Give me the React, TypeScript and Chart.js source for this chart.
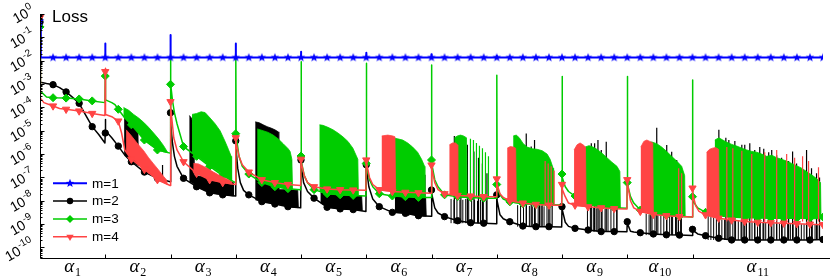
import React, { useEffect, useRef } from 'react';
import { Chart, registerables } from 'chart.js';

Chart.register(...registerables);

// ===================== values =====================
const SECTION_EDGES = [0, 1000, 2000, 3000, 4000, 5000, 6000, 7000, 8000, 9000, 10000, 12000];
const SECTION_SUBSCRIPTS = ['1', '2', '3', '4', '5', '6', '7', '8', '9', '10', '11'];
const Y_EXPONENTS = [0, -1, -2, -3, -4, -5, -6, -7, -8, -9, -10];
const Y_MIN_EXP = -10.45;
const SERIES_NAMES = ['m=1', 'm=2', 'm=3', 'm=4'];
const TITLE = 'Loss';
const MARKER_STEP = 200;

type Knot = [number, number];
type BandRow = [number, number, number]; // x, top, bottom
type SpikeGroup = { floor: number; pts: Knot[] };
type Comb = { x0: number; dx: number; floor: number; tops: number[] };

// m = 1 (flat)
const m1Start = 0.5;
const m1Level = 1.37e-2;
const m1SpikeX = [1001, 2001, 3001, 4001, 5001, 6001, 7001];
const m1SpikeTop = [5.5e-2, 1.26e-1, 5.5e-2, 2.4e-2, 2.2e-2, 1.9e-2, 1.6e-2];

// m = 2 base line
const m2Line: Knot[] = [
  [0, 0.45], [6, 1.2e-3], [100, 1.05e-3], [200, 9.4e-4], [300, 7e-4], [400, 4.6e-4], [500, 2.7e-4], [600, 1.5e-4], [700, 4.7e-5], [800, 1.5e-5], [900, 6.9e-6], [995, 3e-6],
  [1000, 8e-6], [1002, 3e-5], [1006, 1e-5], [1100, 5e-6], [1200, 2.2e-6], [1300, 9e-7], [1400, 4.7e-7], [1600, 1.7e-7], [1800, 9.2e-8], [1995, 6.6e-8],
  [2000, 5.9e-5], [2006, 2e-5], [2030, 3e-6], [2060, 8e-7], [2100, 3e-7], [2200, 9.2e-8], [2400, 4e-8], [2600, 2.2e-8], [2800, 1.8e-8], [2995, 1.6e-8],
  [3000, 3.7e-6], [3006, 1.5e-6], [3030, 2.5e-7], [3070, 6e-8], [3120, 2.8e-8], [3200, 1.8e-8], [3400, 9.2e-9], [3600, 7.3e-9], [3800, 5.6e-9], [3995, 5e-9],
  [4000, 5.6e-7], [4006, 3e-7], [4040, 6e-8], [4100, 2.5e-8], [4200, 1.3e-8], [4400, 5.3e-9], [4600, 4.5e-9], [4800, 4.2e-9], [4995, 3.5e-9],
  [5000, 3.5e-7], [5006, 2e-7], [5040, 4e-8], [5100, 1.2e-8], [5200, 5.6e-9], [5400, 3.2e-9], [5600, 2.9e-9], [5800, 2.3e-9], [5995, 2.2e-9],
  [6000, 2.9e-8], [6006, 2e-8], [6050, 5e-9], [6100, 3e-9], [6200, 2.1e-9], [6400, 1.4e-9], [6600, 1.15e-9], [6800, 1.1e-9], [6995, 1.05e-9],
  [7000, 1.8e-8], [7006, 1e-8], [7050, 2.5e-9], [7100, 1.7e-9], [7200, 1.27e-9], [7400, 8.3e-10], [7600, 7.8e-10], [7800, 7.8e-10], [7995, 7.6e-10],
  [8000, 5.6e-9], [8006, 4e-9], [8050, 1.2e-9], [8100, 8e-10], [8200, 6.6e-10], [8400, 5.6e-10], [8600, 4.8e-10], [8800, 4.8e-10], [8995, 4.7e-10],
  [9000, 1.27e-9], [9006, 1e-9], [9050, 5e-10], [9100, 4.6e-10], [9200, 4.3e-10], [9400, 3.8e-10], [9600, 3.5e-10], [9800, 3.4e-10], [9995, 3.3e-10],
  [10000, 6e-10], [10006, 5.5e-10], [10080, 3.8e-10], [10200, 3.2e-10], [10400, 2.5e-10], [10600, 2.1e-10], [10800, 2.1e-10], [11000, 2.1e-10], [11200, 2.1e-10], [11400, 2.1e-10], [11600, 2.1e-10], [11800, 2.1e-10], [12000, 2.2e-10],
];

// m = 3 base line
const m3Line: Knot[] = [
  [0, 0.28], [6, 5e-4], [100, 2.8e-4], [200, 2.6e-4], [400, 2.5e-4], [600, 2.3e-4], [800, 1.9e-4], [995, 1.6e-4],
  [1000, 2.2e-3], [1002, 4e-3], [1006, 2.1e-4], [1100, 1.6e-4], [1150, 1.3e-4], [1200, 8.3e-5], [1300, 3.5e-5], [1400, 1.8e-5], [1600, 4e-6], [1800, 1.5e-6], [1995, 1.1e-6],
  [2000, 9.7e-4], [2002, 1.3e-2], [2006, 1e-3], [2030, 2e-4], [2060, 6e-5], [2100, 2e-5], [2200, 2.1e-6], [2400, 8e-7], [2600, 3e-7], [2800, 1.2e-7], [2995, 6e-8],
  [3000, 7.5e-6], [3002, 1.2e-2], [3006, 6e-6], [3050, 8e-7], [3100, 3e-7], [3200, 1.4e-7], [3400, 6e-8], [3600, 4e-8], [3800, 3.3e-8], [3995, 3e-8],
  [4000, 8.3e-7], [4002, 9e-3], [4006, 5e-7], [4050, 1.2e-7], [4100, 6e-8], [4200, 3e-8], [4400, 2e-8], [4600, 1.8e-8], [4800, 1.7e-8], [4995, 1.6e-8],
  [5000, 4e-7], [5002, 7.7e-3], [5006, 3e-7], [5050, 8e-8], [5100, 4e-8], [5200, 2e-8], [5400, 1.6e-8], [5600, 1.5e-8], [5800, 1.4e-8], [5995, 1.4e-8],
  [6000, 5.6e-7], [6002, 6.6e-3], [6006, 4e-7], [6050, 8e-8], [6100, 4e-8], [6200, 1.8e-8], [6400, 1.5e-8], [6600, 1.4e-8], [6800, 1.3e-8], [6995, 1.3e-8],
  [7000, 5e-8], [7002, 2.4e-3], [7006, 4e-8], [7050, 1.8e-8], [7100, 1.2e-8], [7200, 9e-9], [7400, 7.5e-9], [7600, 7e-9], [7800, 6.8e-9], [7995, 6.6e-9],
  [8000, 1.4e-7], [8002, 2.1e-3], [8006, 1e-7], [8050, 4e-8], [8100, 2.5e-8], [8200, 1.6e-8], [8400, 7e-9], [8600, 5.6e-9], [8800, 5e-9], [8995, 4.8e-9],
  [9000, 6e-8], [9002, 2.1e-3], [9006, 5e-8], [9050, 1.5e-8], [9100, 8e-9], [9200, 4e-9], [9400, 2.8e-9], [9600, 2.4e-9], [9800, 2.2e-9], [9995, 2e-9],
  [10000, 1.5e-8], [10002, 1.5e-3], [10006, 1e-8], [10080, 5e-9], [10200, 3.2e-9], [10400, 2.3e-9], [10600, 2e-9], [10800, 1.9e-9], [11000, 1.9e-9], [11200, 1.8e-9], [11400, 1.8e-9], [11600, 1.8e-9], [11800, 1.8e-9], [12000, 2e-9],
];

// m = 4 base line
const m4Line: Knot[] = [
  [0, 0.7], [6, 2.5e-4], [60, 1.6e-4], [200, 1.15e-4], [300, 9e-5], [400, 8.3e-5], [600, 7e-5], [800, 5.5e-5], [995, 4.5e-5],
  [1000, 3.4e-3], [1002, 4.8e-3], [1006, 5e-5], [1100, 4e-5], [1200, 2.6e-5], [1250, 8e-6], [1300, 1.5e-6], [1400, 6e-7], [1600, 2.2e-7], [1800, 8e-8], [1995, 4.5e-8],
  [2000, 1.75e-4], [2006, 1e-4], [2050, 5e-6], [2100, 1.5e-6], [2200, 4.7e-7], [2400, 1.5e-7], [2600, 8e-8], [2800, 6e-8], [2995, 5e-8],
  [3000, 5e-6], [3006, 3e-6], [3050, 8e-7], [3100, 3.5e-7], [3200, 1.7e-7], [3400, 8e-8], [3600, 6e-8], [3800, 5e-8], [3995, 4.5e-8],
  [4000, 6e-7], [4006, 4e-7], [4050, 1.2e-7], [4100, 6e-8], [4200, 4e-8], [4400, 3.2e-8], [4600, 3e-8], [4800, 2.9e-8], [4995, 2.8e-8],
  [5000, 5.6e-7], [5006, 4e-7], [5050, 1e-7], [5100, 5e-8], [5200, 3e-8], [5400, 2.5e-8], [5600, 2.3e-8], [5800, 2.2e-8], [5995, 2.1e-8],
  [6000, 3.4e-7], [6006, 2.5e-7], [6050, 6e-8], [6100, 3e-8], [6200, 2e-8], [6400, 1.7e-8], [6600, 1.6e-8], [6800, 1.5e-8], [6995, 1.5e-8],
  [7000, 8.6e-8], [7006, 5e-8], [7050, 2e-8], [7100, 1.4e-8], [7200, 1e-8], [7400, 8e-9], [7600, 7e-9], [7800, 6.5e-9], [7995, 6.5e-9],
  [8000, 5e-8], [8006, 3e-8], [8050, 1.5e-8], [8100, 8e-9], [8200, 6.5e-9], [8400, 5.5e-9], [8600, 5e-9], [8800, 4.6e-9], [8995, 4.4e-9],
  [9000, 8e-8], [9006, 5e-8], [9050, 1e-8], [9100, 5e-9], [9200, 3.5e-9], [9400, 2.6e-9], [9600, 2.3e-9], [9800, 2.1e-9], [9995, 2e-9],
  [10000, 3.5e-8], [10006, 2e-8], [10050, 6e-9], [10100, 3.5e-9], [10200, 2.5e-9], [10400, 1.8e-9], [10600, 1.5e-9], [10800, 1.3e-9], [11000, 1.2e-9], [11200, 1.15e-9], [11400, 1.1e-9], [11600, 1.05e-9], [11800, 1e-9], [12000, 9.5e-10],
];

// dense oscillation envelopes: [x, top, bottom]
const m2Bands: BandRow[][] = [
  [[1290, 4e-5, 9.5e-7], [1320, 3.5e-5, 8e-7], [1360, 3e-5, 6.5e-7], [1400, 2.5e-5, 4.7e-7], [1450, 2e-5, 4e-7], [1500, 1.5e-5, 3.3e-7], [1510, 3.2e-7, 3.2e-7]],
  [[2290, 4.5e-5, 6.5e-8], [2320, 3.5e-5, 6e-8], [2350, 2e-5, 5.5e-8], [2360, 1.2e-7, 5.2e-8], [2500, 1.1e-7, 3e-8], [2700, 9e-8, 2e-8], [2900, 7e-8, 1.7e-8], [2960, 6e-8, 1.6e-8], [2970, 1.6e-8, 1.6e-8]],
  [[3300, 2.4e-5, 1.1e-8], [3360, 2.2e-5, 9.8e-9], [3420, 1.8e-5, 9e-9], [3480, 1.5e-5, 8.5e-9], [3540, 1.3e-5, 8e-9], [3600, 1.1e-5, 7.3e-9], [3650, 9e-6, 7e-9], [3660, 3e-8, 6.9e-9], [3800, 3e-8, 5.6e-9], [3950, 2.8e-8, 5.1e-9], [3960, 5.1e-9, 5.1e-9]],
  [[4300, 2.2e-8, 8e-9], [4420, 2e-8, 5.2e-9], [4600, 1.8e-8, 4.5e-9], [4800, 1.7e-8, 4.2e-9], [4930, 1.6e-8, 3.8e-9], [4940, 3.8e-9, 3.8e-9]],
  [[5440, 1.6e-8, 3.2e-9], [5600, 1.5e-8, 2.9e-9], [5800, 1.4e-8, 2.3e-9], [5910, 1.4e-8, 2.2e-9], [5920, 2.2e-9, 2.2e-9]],
];

const m3Bands: BandRow[][] = [
  [[1280, 1e-4, 4e-5], [1360, 7.5e-5, 2.5e-5], [1435, 5e-5, 1.5e-5], [1512, 3.5e-5, 8e-6], [1588, 2.3e-5, 4.3e-6], [1664, 1.4e-5, 2.8e-6], [1741, 8e-6, 2e-6], [1817, 4.5e-6, 1.45e-6], [1894, 2.3e-6, 1.25e-6], [1955, 1.2e-6, 1.15e-6]],
  [[2330, 5e-5, 1.1e-6], [2400, 5.5e-5, 8e-7], [2470, 6.5e-5, 6e-7], [2530, 6e-5, 4.5e-7], [2607, 3.5e-5, 3e-7], [2683, 2e-5, 2.2e-7], [2760, 1e-5, 1.6e-7], [2836, 3.5e-6, 1.1e-7], [2887, 1.6e-6, 8.5e-8], [2930, 8e-7, 7e-8], [2940, 7e-8, 7e-8]],
  [[3330, 1.2e-5, 8e-8], [3420, 1e-5, 6e-8], [3497, 8.5e-6, 5e-8], [3573, 6.5e-6, 4.4e-8], [3650, 4.5e-6, 3.9e-8], [3726, 2.8e-6, 3.5e-8], [3803, 1.7e-6, 3.3e-8], [3833, 1.3e-6, 3.2e-8], [3860, 6e-7, 3.2e-8], [3870, 3.2e-8, 3.2e-8]],
  [[4284, 1.8e-5, 2.5e-8], [4337, 1.7e-5, 2.2e-8], [4413, 1.4e-5, 2e-8], [4490, 1.1e-5, 1.9e-8], [4566, 8e-6, 1.8e-8], [4642, 5.5e-6, 1.75e-8], [4719, 3.5e-6, 1.7e-8], [4795, 1.8e-6, 1.7e-8], [4871, 6e-7, 1.65e-8], [4880, 1.65e-8, 1.65e-8]],
  [[5405, 5e-6, 1.6e-8], [5482, 4.5e-6, 1.55e-8], [5558, 4e-6, 1.5e-8], [5635, 3e-6, 1.5e-8], [5711, 2e-6, 1.45e-8], [5787, 1.2e-6, 1.4e-8], [5848, 6e-7, 1.4e-8], [5894, 3e-7, 1.4e-8], [5900, 1.4e-8, 1.4e-8]],
  [[6352, 5e-6, 1.5e-8], [6398, 6e-6, 1.5e-8], [6444, 6.5e-6, 1.45e-8], [6490, 6e-6, 1.4e-8], [6536, 5e-6, 1.4e-8], [6545, 1.4e-8, 1.4e-8]],
  [[7253, 6e-6, 8.5e-9], [7299, 6.5e-6, 8e-9], [7345, 5e-6, 7.8e-9], [7406, 2.8e-6, 7.5e-9], [7467, 2e-6, 7.3e-9], [7543, 1.7e-6, 7.1e-9], [7620, 1.6e-6, 7e-9], [7696, 1.4e-6, 6.9e-9], [7772, 1e-6, 6.8e-9], [7818, 6e-7, 6.7e-9], [7864, 2.5e-7, 6.7e-9], [7875, 6.7e-9, 6.7e-9]],
  [[8353, 2e-6, 8e-9], [8414, 2.3e-6, 6.8e-9], [8475, 2e-6, 6.2e-9], [8536, 1.6e-6, 5.8e-9], [8612, 1.1e-6, 5.5e-9], [8689, 7e-7, 5.3e-9], [8765, 4.5e-7, 5.1e-9], [8842, 3e-7, 4.9e-9], [8887, 1.8e-7, 4.9e-9], [8895, 4.9e-9, 4.9e-9]],
  [[9300, 3e-6, 3.4e-9], [9376, 3.3e-6, 2.9e-9], [9452, 2.8e-6, 2.6e-9], [9528, 2e-6, 2.5e-9], [9605, 1.3e-6, 2.4e-9], [9681, 8e-7, 2.3e-9], [9758, 5e-7, 2.2e-9], [9834, 3e-7, 2.1e-9], [9880, 1.2e-7, 2.1e-9], [9888, 2.1e-9, 2.1e-9]],
  [[10343, 4e-6, 2.7e-9], [10404, 5e-6, 2.4e-9], [10465, 4e-6, 2.25e-9], [10526, 3.2e-6, 2.15e-9], [10603, 2.6e-6, 2e-9], [10679, 2.2e-6, 1.95e-9], [10756, 1.8e-6, 1.9e-9], [10832, 1.5e-6, 1.9e-9], [10908, 1.3e-6, 1.9e-9], [10985, 1.2e-6, 1.9e-9], [11061, 1e-6, 1.85e-9], [11137, 8e-7, 1.8e-9], [11214, 9e-7, 1.8e-9], [11290, 7e-7, 1.8e-9], [11366, 6e-7, 1.8e-9], [11443, 5e-7, 1.8e-9], [11519, 4e-7, 1.8e-9], [11595, 3.2e-7, 1.8e-9], [11672, 2.5e-7, 1.75e-9], [11748, 1.8e-7, 1.7e-9], [11824, 1.3e-7, 1.7e-9], [11901, 9e-8, 1.7e-9], [11962, 6e-8, 1.7e-9], [11970, 1.7e-9, 1.7e-9]],
];

const m4Bands: BandRow[][] = [
  [[1320, 1.1e-5, 1.3e-6], [1390, 6.6e-6, 7e-7], [1451, 4e-6, 5e-7], [1512, 2.45e-6, 3.6e-7], [1588, 1.4e-6, 2.4e-7], [1664, 7e-7, 1.6e-7], [1741, 3.8e-7, 1.1e-7], [1817, 2.1e-7, 7.6e-8], [1894, 1.1e-7, 6e-8], [1940, 7.8e-8, 5.2e-8], [1950, 5e-8, 5e-8]],
  [[2352, 4e-7, 2e-7], [2428, 3.8e-7, 1.4e-7], [2504, 3e-7, 1.1e-7], [2581, 2.3e-7, 8.5e-8], [2657, 1.7e-7, 7.5e-8], [2733, 1.3e-7, 6.6e-8], [2810, 1e-7, 6e-8], [2886, 8e-8, 5.5e-8], [2932, 6.5e-8, 5.2e-8], [2940, 5.2e-8, 5.2e-8]],
  [[5238, 6e-6, 2.8e-8], [5330, 6.5e-6, 2.6e-8], [5405, 6e-6, 2.5e-8], [5440, 5.5e-6, 2.45e-8], [5450, 2.45e-8, 2.45e-8]],
  [[6275, 2.5e-6, 1.9e-8], [6322, 3e-6, 1.8e-8], [6368, 3e-6, 1.75e-8], [6398, 2.5e-6, 1.7e-8], [6405, 1.7e-8, 1.7e-8]],
  [[7161, 1.8e-6, 1e-8], [7207, 2.1e-6, 1e-8], [7253, 2e-6, 9.5e-9], [7290, 1.8e-6, 9e-9], [7300, 9e-9, 9e-9]],
  [[8185, 1.5e-6, 6.5e-9], [8231, 2.5e-6, 6.2e-9], [8277, 3e-6, 6e-9], [8323, 2.5e-6, 5.8e-9], [8360, 2e-6, 5.7e-9], [8370, 5.7e-9, 5.7e-9]],
  [[9208, 2e-6, 3.5e-9], [9254, 3.5e-6, 3.2e-9], [9300, 4e-6, 3e-9], [9346, 3.5e-6, 2.9e-9], [9391, 3e-6, 2.8e-9], [9400, 2.8e-9, 2.6e-9]],
  [[10216, 1.2e-6, 2.5e-9], [10262, 1.6e-6, 2.2e-9], [10308, 1.8e-6, 2e-9], [10354, 1.9e-6, 1.9e-9], [10400, 1.6e-6, 1.8e-9], [10410, 1.8e-9, 1.8e-9]],
];

// individual tall spikes
const m2Spikes: SpikeGroup[] = [
  { floor: 7e-8, pts: [[1878, 3.4e-7]] },
  { floor: 5.5e-9, pts: [[3853, 5.6e-7]] },
  { floor: 2.3e-9, pts: [[5650, 1.5e-6], [5750, 7.5e-7], [5850, 3.4e-7], [5900, 1.3e-7]] },
  { floor: 1.1e-9, pts: [[6350, 6e-6], [6450, 4e-6], [6550, 2.5e-6], [6650, 1.3e-6], [6720, 7e-7], [6780, 4e-7], [6850, 1.5e-7]] },
  { floor: 7.8e-10, pts: [[7452, 7.7e-6], [7528, 2.1e-6], [7579, 4e-6], [7656, 1.5e-6], [7696, 1.25e-6], [7798, 2.9e-7], [7849, 9.2e-8]] },
  { floor: 4.8e-10, pts: [[8449, 2.9e-6], [8500, 2.9e-6], [8551, 4e-6], [8602, 1.5e-6], [8678, 3.4e-6], [8841, 1.27e-7]] },
  { floor: 3.4e-10, pts: [[9360, 2.9e-6], [9452, 1.35e-5], [9605, 2.45e-6], [9681, 1.25e-6], [9758, 5.6e-7], [9819, 4e-8]] },
  { floor: 2.1e-10, pts: [[10404, 1.1e-5], [10511, 5e-6], [10557, 4e-6], [10649, 3.6e-6], [10756, 2.5e-6], [10801, 2.5e-6], [10878, 2.9e-6], [10954, 1.5e-6], [11031, 2e-6], [11092, 1.7e-6], [11168, 1.2e-6], [11214, 1.5e-6], [11290, 9e-7], [11366, 7e-7], [11473, 5e-7], [11534, 1.3e-6], [11595, 4e-7], [11748, 1.5e-6], [11824, 2.5e-7], [11901, 1.5e-7], [11947, 1e-7]] },
];
const m3Spikes: SpikeGroup[] = [
  { floor: 1.35e-8, pts: [[6597, 4.5e-6], [6643, 4e-6], [6689, 3e-6], [6735, 2.3e-6], [6781, 1.8e-6], [6827, 1.2e-6], [6873, 8e-7]] },
];
const m4Spikes: SpikeGroup[] = [
  { floor: 7e-9, pts: [[7742, 5e-7], [7788, 4e-7], [7834, 3e-7], [7880, 2e-7]] },
  { floor: 2.2e-9, pts: [[9788, 2.5e-7], [9834, 1.5e-7]] },
  { floor: 1.3e-9, pts: [[10526, 2e-6], [10618, 1.8e-6], [10756, 1.4e-6], [10908, 1e-6], [11107, 1.2e-6], [11290, 1.5e-6], [11443, 1e-6], [11565, 7e-7], [11687, 8e-7], [11779, 5e-7], [11931, 2.7e-7]] },
];

// low dense black combs (iteration grid x0 + i*dx)
const m2Combs: Comb[] = [
  { x0: 6300, dx: 45, floor: 1.1e-9, tops: [1.2e-8, 1.1e-8, 1.2e-8, 1.1e-8, 1.1e-8, 1.2e-8, 1.1e-8, 1.1e-8, 1.1e-8, 1e-8, 1.1e-8, 1e-8, 1e-8] },
  { x0: 7320, dx: 45, floor: 7.8e-10, tops: [6.5e-9, 6e-9, 6.2e-9, 6e-9, 6e-9, 5.8e-9, 6e-9, 5.8e-9, 6e-9, 5.8e-9, 5.6e-9, 5.6e-9] },
  { x0: 8390, dx: 45, floor: 4.8e-10, tops: [5.2e-9, 5e-9, 5e-9, 4.8e-9, 4.8e-9, 4.7e-9, 4.6e-9, 4.6e-9, 4.5e-9, 4.5e-9, 4.4e-9] },
  { x0: 9290, dx: 45, floor: 3.4e-10, tops: [2.8e-9, 2.6e-9, 2.5e-9, 2.5e-9, 2.4e-9, 2.3e-9, 2.3e-9, 2.2e-9, 2.2e-9, 2.1e-9, 2.1e-9, 2e-9, 2e-9] },
  { x0: 10240, dx: 42, floor: 2.1e-10, tops: [2.2e-9, 2e-9, 1.9e-9, 1.8e-9, 1.7e-9, 1.6e-9, 1.6e-9, 1.5e-9, 1.5e-9, 1.4e-9, 1.4e-9, 1.35e-9, 1.3e-9, 1.3e-9, 1.25e-9, 1.25e-9, 1.2e-9, 1.2e-9, 1.2e-9, 1.15e-9, 1.15e-9, 1.15e-9, 1.1e-9, 1.1e-9, 1.1e-9, 1.1e-9, 1.05e-9, 1.05e-9, 1.05e-9, 1.05e-9, 1e-9, 1e-9, 1e-9, 1e-9, 1e-9, 1e-9, 9.8e-10, 9.8e-10, 9.6e-10, 9.6e-10, 9.5e-10] },
];

// ===================== styling =====================
const BLUE = '#0000ff';
const BLACK = '#000000';
const GREEN = '#00cc00';
const RED = '#ff4444';
const SANS = '"Liberation Sans", Arial, sans-serif';
const SERIF = '"Liberation Serif", "Times New Roman", serif';

function starPath(g: CanvasRenderingContext2D, cx: number, cy: number, r: number) {
  g.beginPath();
  for (let i = 0; i < 10; i++) {
    const a = -Math.PI / 2 + (i * Math.PI) / 5;
    const rr = i % 2 === 0 ? r : r * 0.42;
    g.lineTo(cx + rr * Math.cos(a), cy + rr * Math.sin(a));
  }
  g.closePath();
}
function makeStar(color: string, r: number) {
  const c = document.createElement('canvas');
  const s = Math.ceil(r * 2 + 2);
  c.width = s; c.height = s;
  const g = c.getContext('2d')!;
  starPath(g, s / 2, s / 2, r);
  g.fillStyle = color;
  g.fill();
  return c;
}

function lineData(knots: Knot[]) {
  return knots.map(([x, y]) => ({ x, y, mk: x % MARKER_STEP === 0 }));
}
function bandData(band: BandRow[]) {
  const fwd = band.map(([x, t]) => ({ x, y: t }));
  const back = band.slice().reverse().map(([x, , b]) => ({ x, y: b }));
  return fwd.concat(back);
}
function spikeData(groups: SpikeGroup[]) {
  const pts: any[] = [];
  groups.forEach((g) => g.pts.forEach(([x, t]) => pts.push({ x, y: g.floor }, { x, y: t }, { x, y: null })));
  return pts;
}
function combData(combs: Comb[]) {
  const pts: any[] = [];
  combs.forEach((c) => c.tops.forEach((t, i) => {
    const x = c.x0 + i * c.dx;
    pts.push({ x, y: c.floor }, { x, y: t }, { x, y: null });
  }));
  return pts;
}
function m1Data() {
  const pts: any[] = [{ x: 0, y: m1Start, mk: true }, { x: 12, y: m1Level }];
  for (let x = MARKER_STEP; x <= 12000; x += MARKER_STEP) {
    pts.push({ x, y: m1Level, mk: true });
    const i = m1SpikeX.indexOf(x + 1);
    if (i >= 0) pts.push({ x: x + 1, y: m1SpikeTop[i] }, { x: x + 2, y: m1Level });
  }
  return pts;
}

function seriesDatasets(color: string, knots: Knot[], bands: BandRow[][], spikes: SpikeGroup[], combs: Comb[], pointStyle: any, radius: number, rotation: number, orderBase: number) {
  const ds: any[] = [];
  if (spikes.length) ds.push({ data: spikeData(spikes), borderColor: color, borderWidth: 1.2, pointRadius: 0, spanGaps: false, fill: false, order: orderBase });
  if (combs.length) ds.push({ data: combData(combs), borderColor: color, borderWidth: 1, pointRadius: 0, spanGaps: false, fill: false, order: orderBase });
  ds.push({
    data: lineData(knots), borderColor: color, borderWidth: 1.5, borderJoinStyle: 'round', fill: false,
    pointStyle, rotation, pointBackgroundColor: color, pointBorderColor: color, pointBorderWidth: 1,
    pointRadius: (c: any) => (c.raw && c.raw.mk ? radius : 0), order: orderBase + 1,
  });
  bands.forEach((b) => ds.push({ data: bandData(b), borderColor: color, backgroundColor: color, borderWidth: 0.8, pointRadius: 0, fill: 'shape', order: orderBase + 2 }));
  return ds;
}

function drawLegendMarker(ctx: CanvasRenderingContext2D, kind: string, x: number, y: number, color: string) {
  ctx.fillStyle = color;
  if (kind === 'star') { starPath(ctx, x, y, 4.6); ctx.fill(); return; }
  ctx.beginPath();
  if (kind === 'circle') ctx.arc(x, y, 3.2, 0, Math.PI * 2);
  else if (kind === 'diamond') { ctx.moveTo(x, y - 4); ctx.lineTo(x + 4, y); ctx.lineTo(x, y + 4); ctx.lineTo(x - 4, y); }
  else { ctx.moveTo(x - 3.7, y - 2); ctx.lineTo(x + 3.7, y - 2); ctx.lineTo(x, y + 4.2); }
  ctx.closePath();
  ctx.fill();
}

const decorPlugin = {
  id: 'decor',
  afterDatasetsDraw(chart: any) {
    const { ctx, chartArea: a } = chart;
    const xs = chart.scales.x;
    const ys = chart.scales.y;
    ctx.save();
    ctx.strokeStyle = '#000';
    ctx.lineWidth = 1;
    const x0 = Math.round(a.left) + 0.5;
    const yb = Math.round(a.bottom) + 0.5;
    ctx.beginPath();
    ctx.moveTo(x0, a.top);
    ctx.lineTo(x0, yb);
    ctx.lineTo(chart.width, yb);
    SECTION_EDGES.slice(1, -1).forEach((v) => {
      const px = Math.round(xs.getPixelForValue(v)) + 0.5;
      ctx.moveTo(px, yb);
      ctx.lineTo(px, yb - 4);
    });
    Y_EXPONENTS.forEach((e) => {
      const py = Math.round(ys.getPixelForValue(Math.pow(10, e))) + 0.5;
      ctx.moveTo(x0, py);
      ctx.lineTo(x0 + 4, py);
    });
    for (let e = -11; e < 0; e++) {
      for (let m = 2; m <= 9; m++) {
        const v = m * Math.pow(10, e);
        if (v < ys.min || v > ys.max) continue;
        const py = Math.round(ys.getPixelForValue(v)) + 0.5;
        ctx.moveTo(x0, py);
        ctx.lineTo(x0 + 2, py);
      }
    }
    ctx.stroke();

    // y labels (rotated 10^e)
    ctx.fillStyle = '#000';
    Y_EXPONENTS.forEach((e) => {
      const py = ys.getPixelForValue(Math.pow(10, e));
      const exp = String(e);
      ctx.save();
      ctx.translate(35, py - 1);
      ctx.rotate(-Math.PI / 6);
      ctx.textBaseline = 'alphabetic';
      ctx.textAlign = 'left';
      ctx.font = '10px ' + SANS;
      const we = ctx.measureText(exp).width;
      ctx.fillText(exp, -we, -6);
      ctx.font = '14px ' + SANS;
      const w10 = ctx.measureText('10').width;
      ctx.fillText('10', -we - w10 - 0.5, 0);
      ctx.restore();
    });

    // x labels alpha_i
    for (let i = 0; i < SECTION_SUBSCRIPTS.length; i++) {
      const cx = xs.getPixelForValue((SECTION_EDGES[i] + SECTION_EDGES[i + 1]) / 2);
      ctx.font = 'italic 19px ' + SERIF;
      const wa = ctx.measureText('α').width;
      ctx.font = '12px ' + SERIF;
      const ws = ctx.measureText(SECTION_SUBSCRIPTS[i]).width;
      const start = cx - (wa + ws + 1) / 2;
      ctx.textAlign = 'left';
      ctx.textBaseline = 'alphabetic';
      ctx.font = 'italic 19px ' + SERIF;
      ctx.fillText('α', start, 272);
      ctx.font = '12px ' + SERIF;
      ctx.fillText(SECTION_SUBSCRIPTS[i], start + wa + 1, 275.5);
    }

    // title
    ctx.font = '17px ' + SANS;
    ctx.fillText(TITLE, 52, 21.5);

    // legend
    const rows = [183.3, 201, 219, 236.7];
    const colors = [BLUE, BLACK, GREEN, RED];
    const kinds = ['star', 'circle', 'diamond', 'tri'];
    ctx.font = '13.5px ' + SANS;
    ctx.textBaseline = 'middle';
    SERIES_NAMES.forEach((name, i) => {
      const y = rows[i];
      ctx.strokeStyle = colors[i];
      ctx.lineWidth = i === 0 ? 2 : 1.5;
      ctx.beginPath();
      ctx.moveTo(53, y);
      ctx.lineTo(87, y);
      ctx.stroke();
      drawLegendMarker(ctx, kinds[i], 70, y, colors[i]);
      ctx.fillStyle = '#000';
      ctx.fillText(name, 92, y + 0.5);
    });
    ctx.restore();
  },
};

export default function App() {
  const ref = useRef<HTMLCanvasElement>(null);
  useEffect(() => {
    const canvas = ref.current!;
    const star = makeStar(BLUE, 4.6);
    const datasets: any[] = [
      {
        data: m1Data(), borderColor: BLUE, borderWidth: 2, borderJoinStyle: 'round', fill: false,
        pointStyle: star, pointRadius: (c: any) => (c.raw && c.raw.mk ? 5 : 0), order: 0,
      },
      ...seriesDatasets(RED, m4Line, m4Bands, m4Spikes, [], 'triangle', 4.2, 180, 1),
      ...seriesDatasets(GREEN, m3Line, m3Bands, m3Spikes, [], 'rectRot', 4, 0, 4),
      ...seriesDatasets(BLACK, m2Line, m2Bands, m2Spikes, m2Combs, 'circle', 3.2, 0, 7),
    ];
    const chart = new Chart(canvas, {
      type: 'line',
      data: { datasets },
      options: {
        responsive: false,
        animation: false,
        devicePixelRatio: 1,
        events: [],
        layout: { padding: { left: 40, right: 4, top: 14, bottom: 18 } },
        elements: { line: { tension: 0 } },
        plugins: { legend: { display: false }, tooltip: { enabled: false } },
        scales: {
          x: { type: 'linear', min: 0, max: 12000, display: false },
          y: { type: 'logarithmic', min: Math.pow(10, Y_MIN_EXP), max: 1, display: false },
        },
      } as any,
      plugins: [decorPlugin],
    });
    return () => chart.destroy();
  }, []);
  return (
    <div style={{ position: 'fixed', left: 0, top: 0, width: 830, height: 276, background: '#fff' }}>
      <canvas ref={ref} width={830} height={276} style={{ display: 'block', width: 830, height: 276 }} />
    </div>
  );
}
